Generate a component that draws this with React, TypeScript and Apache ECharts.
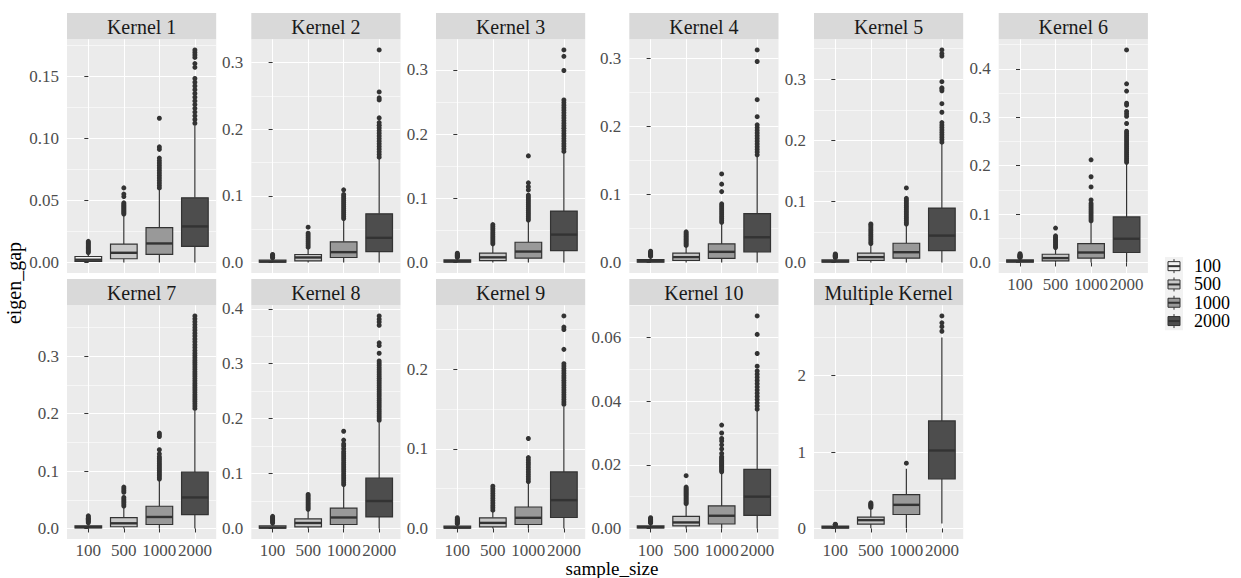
import React, { useEffect, useRef } from "react";
import * as echarts from "echarts";

const FONT = "Liberation Serif";

// ---------------- data ----------------
const sampleSizes = ["100", "500", "1000", "2000"];
const boxFills = ["#F2F2F2", "#C8C8C8", "#999999", "#4D4D4D"];
const panelTitles = [
  "Kernel 1", "Kernel 2", "Kernel 3", "Kernel 4", "Kernel 5", "Kernel 6",
  "Kernel 7", "Kernel 8", "Kernel 9", "Kernel 10", "Multiple Kernel",
];

// each stats row: [lower whisker, Q1, median, Q3, upper whisker] for sample sizes 100, 500, 1000, 2000
const k1Stats = [[0, 0.0008, 0.0022, 0.0048, 0.0075], [0, 0.003, 0.0078, 0.0148, 0.038], [0, 0.0065, 0.0153, 0.028, 0.059], [0, 0.0129, 0.029, 0.052, 0.11]];
const k1Outliers = [
  [0.008, 0.009, 0.01, 0.011, 0.012, 0.013, 0.014, 0.015, 0.016, 0.017],
  [0.039, 0.04, 0.041, 0.042, 0.043, 0.044, 0.045, 0.046, 0.047, 0.048, 0.053, 0.055, 0.06],
  [0.06, 0.062, 0.064, 0.066, 0.068, 0.07, 0.072, 0.074, 0.076, 0.078, 0.08, 0.082, 0.084, 0.091, 0.093, 0.116],
  [0.112, 0.115, 0.118, 0.121, 0.124, 0.127, 0.13, 0.133, 0.136, 0.139, 0.142, 0.145, 0.148, 0.157, 0.16, 0.165, 0.167, 0.169, 0.171],
];
const k1Ticks = [0, 0.05, 0.1, 0.15];
const k1TickLabels = ["0.00", "0.05", "0.10", "0.15"];

const k2Stats = [[0, 0.0005, 0.0015, 0.0035, 0.0065], [0, 0.0025, 0.0075, 0.012, 0.021], [0, 0.0075, 0.0155, 0.031, 0.064], [0, 0.0164, 0.037, 0.073, 0.156]];
const k2Outliers = [
  [0.007, 0.008, 0.009, 0.01, 0.011, 0.012],
  [0.023, 0.026, 0.029, 0.032, 0.035, 0.038, 0.041, 0.044, 0.053],
  [0.066, 0.069, 0.072, 0.075, 0.078, 0.081, 0.084, 0.087, 0.09, 0.093, 0.096, 0.099, 0.102, 0.109],
  [0.158, 0.162, 0.166, 0.17, 0.174, 0.178, 0.182, 0.186, 0.19, 0.194, 0.198, 0.202, 0.206, 0.21, 0.217, 0.244, 0.247, 0.256, 0.319],
];
const k2Ticks = [0, 0.1, 0.2, 0.3];
const k2TickLabels = ["0.0", "0.1", "0.2", "0.3"];

const k3Stats = [[0, 0.0005, 0.002, 0.004, 0.007], [0, 0.003, 0.008, 0.0145, 0.027], [0, 0.0067, 0.017, 0.0315, 0.064], [0, 0.0186, 0.0434, 0.08, 0.17]];
const k3Outliers = [
  [0.008, 0.009, 0.01, 0.011, 0.012, 0.013, 0.0145],
  [0.029, 0.032, 0.035, 0.038, 0.041, 0.044, 0.047, 0.05, 0.053, 0.056, 0.059],
  [0.066, 0.069, 0.072, 0.075, 0.078, 0.081, 0.084, 0.087, 0.09, 0.093, 0.096, 0.099, 0.102, 0.105, 0.113, 0.118, 0.124, 0.166],
  [0.173, 0.177, 0.181, 0.185, 0.189, 0.193, 0.197, 0.201, 0.205, 0.209, 0.213, 0.217, 0.221, 0.225, 0.229, 0.233, 0.237, 0.241, 0.245, 0.249, 0.253, 0.299, 0.321, 0.331],
];
const k3Ticks = [0, 0.1, 0.2, 0.3];
const k3TickLabels = ["0.0", "0.1", "0.2", "0.3"];

const k4Stats = [[0, 0.0005, 0.002, 0.0044, 0.008], [0, 0.003, 0.0078, 0.0137, 0.0234], [0, 0.0059, 0.0156, 0.0273, 0.057], [0, 0.0156, 0.037, 0.0717, 0.155]];
const k4Outliers = [
  [0.009, 0.01, 0.011, 0.012, 0.013, 0.014, 0.015, 0.0165],
  [0.025, 0.027, 0.029, 0.031, 0.033, 0.035, 0.037, 0.039, 0.041, 0.043, 0.045],
  [0.059, 0.062, 0.065, 0.068, 0.071, 0.074, 0.077, 0.08, 0.083, 0.086, 0.104, 0.115, 0.13],
  [0.158, 0.162, 0.166, 0.17, 0.174, 0.178, 0.182, 0.186, 0.19, 0.194, 0.198, 0.202, 0.214, 0.239, 0.295, 0.312],
];
const k4Ticks = [0, 0.1, 0.2, 0.3];
const k4TickLabels = ["0.0", "0.1", "0.2", "0.3"];

const k5Stats = [[0, 0.0005, 0.002, 0.0043, 0.007], [0, 0.0033, 0.0087, 0.0152, 0.029], [0, 0.007, 0.0168, 0.0315, 0.061], [0, 0.0195, 0.044, 0.089, 0.194]];
const k5Outliers = [
  [0.008, 0.009, 0.01, 0.011, 0.012, 0.013, 0.014],
  [0.031, 0.034, 0.037, 0.04, 0.043, 0.046, 0.049, 0.052, 0.055, 0.058, 0.061, 0.063],
  [0.063, 0.066, 0.069, 0.072, 0.075, 0.078, 0.081, 0.084, 0.087, 0.09, 0.093, 0.096, 0.099, 0.102, 0.105, 0.122],
  [0.197, 0.201, 0.205, 0.209, 0.213, 0.217, 0.221, 0.225, 0.229, 0.246, 0.26, 0.281, 0.284, 0.286, 0.296, 0.338, 0.342, 0.348],
];
const k5Ticks = [0, 0.1, 0.2, 0.3];
const k5TickLabels = ["0.0", "0.1", "0.2", "0.3"];

const k6Stats = [[0, 0.0007, 0.0027, 0.0055, 0.009], [0, 0.0034, 0.009, 0.017, 0.0295], [0, 0.009, 0.0206, 0.039, 0.084], [0, 0.0206, 0.049, 0.094, 0.204]];
const k6Outliers = [
  [0.01, 0.011, 0.012, 0.013, 0.014, 0.015, 0.016, 0.018],
  [0.031, 0.034, 0.037, 0.04, 0.043, 0.046, 0.049, 0.052, 0.055, 0.071],
  [0.086, 0.09, 0.094, 0.098, 0.102, 0.106, 0.11, 0.114, 0.118, 0.122, 0.129, 0.156, 0.177, 0.212],
  [0.207, 0.211, 0.215, 0.219, 0.223, 0.227, 0.231, 0.235, 0.239, 0.243, 0.247, 0.251, 0.255, 0.259, 0.263, 0.267, 0.271, 0.287, 0.302, 0.307, 0.312, 0.325, 0.329, 0.354, 0.369, 0.439],
];
const k6Ticks = [0, 0.1, 0.2, 0.3, 0.4];
const k6TickLabels = ["0.0", "0.1", "0.2", "0.3", "0.4"];

const k7Stats = [[0, 0.0008, 0.0025, 0.0046, 0.009], [0, 0.003, 0.009, 0.019, 0.0375], [0, 0.0069, 0.02, 0.0387, 0.084], [0, 0.024, 0.054, 0.098, 0.205]];
const k7Outliers = [
  [0.01, 0.012, 0.014, 0.016, 0.018, 0.02, 0.022],
  [0.039, 0.042, 0.045, 0.048, 0.051, 0.054, 0.063, 0.066, 0.069, 0.072],
  [0.086, 0.089, 0.092, 0.095, 0.098, 0.101, 0.104, 0.107, 0.11, 0.113, 0.116, 0.119, 0.122, 0.125, 0.13, 0.137, 0.16, 0.163, 0.166],
  [0.209, 0.213, 0.217, 0.221, 0.225, 0.229, 0.233, 0.237, 0.241, 0.245, 0.249, 0.253, 0.257, 0.261, 0.265, 0.269, 0.273, 0.277, 0.281, 0.285, 0.289, 0.293, 0.297, 0.301, 0.305, 0.31, 0.315, 0.32, 0.325, 0.33, 0.335, 0.34, 0.345, 0.35, 0.355, 0.36, 0.365, 0.37],
];
const k7Ticks = [0, 0.1, 0.2, 0.3];
const k7TickLabels = ["0.0", "0.1", "0.2", "0.3"];

const k8Stats = [[0, 0.0008, 0.0018, 0.0048, 0.009], [0, 0.003, 0.01, 0.0175, 0.033], [0, 0.0072, 0.02, 0.037, 0.077], [0, 0.021, 0.05, 0.0915, 0.193]];
const k8Outliers = [
  [0.01, 0.012, 0.014, 0.016, 0.018, 0.02, 0.022],
  [0.035, 0.038, 0.041, 0.044, 0.047, 0.05, 0.053, 0.056, 0.059, 0.062],
  [0.08, 0.084, 0.088, 0.092, 0.096, 0.1, 0.104, 0.108, 0.112, 0.116, 0.12, 0.124, 0.128, 0.132, 0.136, 0.14, 0.145, 0.15, 0.154, 0.161, 0.177],
  [0.197, 0.201, 0.205, 0.209, 0.213, 0.217, 0.221, 0.225, 0.229, 0.233, 0.237, 0.241, 0.245, 0.249, 0.253, 0.257, 0.261, 0.265, 0.269, 0.273, 0.277, 0.281, 0.285, 0.289, 0.293, 0.297, 0.301, 0.305, 0.319, 0.333, 0.338, 0.37, 0.376, 0.381, 0.387],
];
const k8Ticks = [0, 0.1, 0.2, 0.3, 0.4];
const k8TickLabels = ["0.0", "0.1", "0.2", "0.3", "0.4"];

const k9Stats = [[0, 0.0005, 0.0013, 0.003, 0.005], [0, 0.002, 0.007, 0.0134, 0.021], [0, 0.005, 0.0134, 0.027, 0.057], [0, 0.0138, 0.0356, 0.071, 0.153]];
const k9Outliers = [
  [0.006, 0.007, 0.008, 0.009, 0.01, 0.011, 0.012, 0.0135],
  [0.023, 0.026, 0.029, 0.032, 0.035, 0.038, 0.041, 0.044, 0.047, 0.05, 0.053],
  [0.059, 0.062, 0.065, 0.068, 0.071, 0.074, 0.077, 0.08, 0.083, 0.086, 0.089, 0.113],
  [0.156, 0.159, 0.162, 0.165, 0.168, 0.171, 0.174, 0.177, 0.18, 0.183, 0.186, 0.189, 0.192, 0.195, 0.198, 0.201, 0.204, 0.207, 0.225, 0.25, 0.253, 0.267],
];
const k9Ticks = [0, 0.1, 0.2];
const k9TickLabels = ["0.0", "0.1", "0.2"];

const k10Stats = [[0, 0.0002, 0.0004, 0.0008, 0.0015], [0, 0.0008, 0.0019, 0.0038, 0.0075], [0, 0.0014, 0.004, 0.0071, 0.0172], [0, 0.0041, 0.01, 0.0186, 0.037]];
const k10Outliers = [
  [0.0017, 0.0019, 0.0021, 0.0023, 0.0025, 0.0027, 0.0029, 0.0031, 0.0034],
  [0.0078, 0.0082, 0.0086, 0.009, 0.0094, 0.0098, 0.0102, 0.0106, 0.011, 0.0114, 0.0118, 0.0122, 0.0126, 0.013, 0.0166],
  [0.0178, 0.0182, 0.0186, 0.019, 0.0194, 0.0198, 0.0202, 0.0206, 0.021, 0.0214, 0.0218, 0.0222, 0.0226, 0.0236, 0.025, 0.0263, 0.0275, 0.0283, 0.03, 0.0325],
  [0.0375, 0.0385, 0.0395, 0.0405, 0.0415, 0.0425, 0.0435, 0.0445, 0.0455, 0.0465, 0.0475, 0.0485, 0.0495, 0.051, 0.055, 0.061, 0.0668],
];
const k10Ticks = [0, 0.02, 0.04, 0.06];
const k10TickLabels = ["0.00", "0.02", "0.04", "0.06"];

const mkStats = [[0, 0.004, 0.017, 0.03, 0.042], [0.004, 0.057, 0.109, 0.148, 0.25], [0.005, 0.183, 0.309, 0.444, 0.78], [0.065, 0.649, 1.02, 1.407, 2.497]];
const mkOutliers = [
  [0.048, 0.052, 0.056],
  [0.275, 0.29, 0.3, 0.31, 0.32, 0.335],
  [0.854],
  [2.58, 2.64, 2.69, 2.78],
];
const mkTicks = [0, 1, 2];
const mkTickLabels = ["0", "1", "2"];

const panelStats = [k1Stats, k2Stats, k3Stats, k4Stats, k5Stats, k6Stats, k7Stats, k8Stats, k9Stats, k10Stats, mkStats];
const panelOutliers = [k1Outliers, k2Outliers, k3Outliers, k4Outliers, k5Outliers, k6Outliers, k7Outliers, k8Outliers, k9Outliers, k10Outliers, mkOutliers];
const panelTicks = [k1Ticks, k2Ticks, k3Ticks, k4Ticks, k5Ticks, k6Ticks, k7Ticks, k8Ticks, k9Ticks, k10Ticks, mkTicks];
const panelTickLabels = [k1TickLabels, k2TickLabels, k3TickLabels, k4TickLabels, k5TickLabels, k6TickLabels, k7TickLabels, k8TickLabels, k9TickLabels, k10TickLabels, mkTickLabels];

// ---------------- layout ----------------
const colLefts = [67, 251.3, 436, 629.3, 814, 998.7];
const panelW = 149.2;
const panelTops = [39.3, 305.3];
const panelH = 233.8;
const stripH = 26.3;

export default function App() {
  const ref = useRef<HTMLDivElement>(null);
  useEffect(() => {
    if (!ref.current) return;
    const chart = echarts.init(ref.current, undefined, { renderer: "svg" });

    const grids: any[] = [];
    const xAxes: any[] = [];
    const yAxes: any[] = [];
    const series: any[] = [];
    const graphics: any[] = [];

    panelTitles.forEach((title, i) => {
      const row = i < 6 ? 0 : 1;
      const col = i < 6 ? i : i - 6;
      const left = colLefts[col];
      const top = panelTops[row];
      const showX = i >= 5;
      const stats = panelStats[i];
      const outs = panelOutliers[i];
      const ticks = panelTicks[i];
      const labels = panelTickLabels[i];

      const all: number[] = [];
      stats.forEach((s) => all.push(...s));
      outs.forEach((o) => all.push(...o));
      const dMin = Math.min(...all);
      const dMax = Math.max(...all);
      const span = dMax - dMin;
      const yMin = dMin - 0.05 * span;
      const yMax = dMax + 0.05 * span;
      const step = ticks[1] - ticks[0];
      const minors = [ticks[0] - step / 2, ...ticks.map((t) => t + step / 2)].filter((v) => v > yMin && v < yMax);

      grids.push({
        left, top, width: panelW, height: panelH,
        show: true, backgroundColor: "#EBEBEB", borderWidth: 0,
        containLabel: false, outerBoundsMode: "none",
      });
      xAxes.push({
        type: "value", gridIndex: i, min: -0.6, max: 3.6,
        axisLine: { show: false },
        axisTick: { show: showX, length: 4, lineStyle: { color: "#333333", width: 1 }, customValues: [0, 1, 2, 3] },
        axisLabel: {
          show: showX, customValues: [0, 1, 2, 3], margin: 3,
          formatter: (v: number) => sampleSizes[Math.round(v)] ?? "",
          fontFamily: FONT, fontSize: 17, color: "#4D4D4D",
        },
        splitLine: { show: true, lineStyle: { color: "#FFFFFF", width: 1.1 } },
      });
      yAxes.push({
        type: "value", gridIndex: i, min: yMin, max: yMax, position: "left",
        axisLine: { show: false },
        axisTick: { show: true, length: 4, lineStyle: { color: "#333333", width: 1 }, customValues: ticks },
        axisLabel: {
          customValues: ticks, margin: 8,
          formatter: (v: number) => {
            const k = ticks.findIndex((t) => Math.abs(t - v) < 1e-9);
            return k >= 0 ? labels[k] : "";
          },
          fontFamily: FONT, fontSize: 17, color: "#4D4D4D",
        },
        splitLine: { show: true, lineStyle: { color: "#FFFFFF", width: 1.1 } },
      });
      yAxes.push({
        type: "value", gridIndex: i, min: yMin, max: yMax, position: "left",
        axisLine: { show: false },
        axisTick: { show: false, customValues: minors },
        axisLabel: { show: false, customValues: minors },
        splitLine: { show: true, lineStyle: { color: "#FFFFFF", width: 0.55 } },
      });

      series.push({
        type: "custom",
        xAxisIndex: i, yAxisIndex: 2 * i,
        encode: { x: 0, y: [1, 2, 3, 4, 5] },
        data: stats.map((s, k) => [k, ...s]),
        renderItem: (params: any, api: any) => {
          const k = api.value(0);
          const lo = api.coord([k, api.value(1)]);
          const q1 = api.coord([k, api.value(2)]);
          const md = api.coord([k, api.value(3)]);
          const q3 = api.coord([k, api.value(4)]);
          const hi = api.coord([k, api.value(5)]);
          const hw = api.size([0.75, 0])[0] / 2;
          const stroke = "#333333";
          return {
            type: "group",
            children: [
              { type: "line", shape: { x1: lo[0], y1: lo[1], x2: q1[0], y2: q1[1] }, style: { stroke, lineWidth: 1.2 } },
              { type: "line", shape: { x1: q3[0], y1: q3[1], x2: hi[0], y2: hi[1] }, style: { stroke, lineWidth: 1.2 } },
              {
                type: "rect",
                shape: { x: q1[0] - hw, y: q3[1], width: 2 * hw, height: q1[1] - q3[1] },
                style: { fill: boxFills[params.dataIndex], stroke, lineWidth: 1.2 },
              },
              { type: "line", shape: { x1: md[0] - hw, y1: md[1], x2: md[0] + hw, y2: md[1] }, style: { stroke, lineWidth: 2.4 } },
            ],
          };
        },
      });
      const pts: number[][] = [];
      outs.forEach((o, k) => o.forEach((v) => pts.push([k, v])));
      series.push({
        type: "scatter",
        xAxisIndex: i, yAxisIndex: 2 * i,
        data: pts,
        symbol: "circle",
        symbolSize: 5,
        itemStyle: { color: "#333333", opacity: 1 },
        z: 3,
      });

      // facet strip
      graphics.push({
        type: "rect", silent: true,
        shape: { x: left, y: top - stripH, width: panelW, height: stripH },
        style: { fill: "#D9D9D9" },
      });
      graphics.push({
        type: "text", silent: true,
        x: left + panelW / 2, y: top - stripH / 2 + 1,
        style: {
          text: title, fill: "#1A1A1A", fontFamily: FONT, fontSize: 20,
          align: "center", verticalAlign: "middle",
        },
      });
    });

    // axis titles
    graphics.push({
      type: "text", silent: true, x: 14, y: 283, rotation: Math.PI / 2,
      style: { text: "eigen_gap", fill: "#000000", fontFamily: FONT, fontSize: 20, align: "center", verticalAlign: "middle" },
    });
    graphics.push({
      type: "text", silent: true, x: 612, y: 568.5,
      style: { text: "sample_size", fill: "#000000", fontFamily: FONT, fontSize: 19, align: "center", verticalAlign: "middle" },
    });

    // legend
    const keyX = 1165;
    const keyW = 18;
    const keyTop = 257;
    const keyH = 18.3;
    graphics.push({
      type: "rect", silent: true,
      shape: { x: keyX, y: keyTop, width: keyW, height: keyH * sampleSizes.length },
      style: { fill: "#F2F2F2" },
    });
    sampleSizes.forEach((name, k) => {
      const cy = keyTop + keyH * k + keyH / 2;
      const cx = keyX + keyW / 2;
      graphics.push({ type: "line", silent: true, shape: { x1: cx, y1: cy - 7, x2: cx, y2: cy + 7 }, style: { stroke: "#333333", lineWidth: 1 } });
      graphics.push({
        type: "rect", silent: true,
        shape: { x: cx - 6, y: cy - 4.5, width: 12, height: 9 },
        style: { fill: boxFills[k], stroke: "#333333", lineWidth: 1 },
      });
      graphics.push({ type: "line", silent: true, shape: { x1: cx - 6, y1: cy, x2: cx + 6, y2: cy }, style: { stroke: "#333333", lineWidth: 2 } });
      graphics.push({
        type: "text", silent: true, x: 1194, y: cy,
        style: { text: name, fill: "#000000", fontFamily: FONT, fontSize: 18, align: "left", verticalAlign: "middle" },
      });
    });

    chart.setOption({
      animation: false,
      backgroundColor: "#FFFFFF",
      textStyle: { fontFamily: FONT },
      grid: grids,
      xAxis: xAxes,
      yAxis: yAxes,
      series,
      graphic: graphics,
    });

    return () => chart.dispose();
  }, []);

  return (
    <div
      ref={ref}
      style={{ position: "fixed", left: 0, top: 0, width: 1241, height: 578 }}
    />
  );
}
